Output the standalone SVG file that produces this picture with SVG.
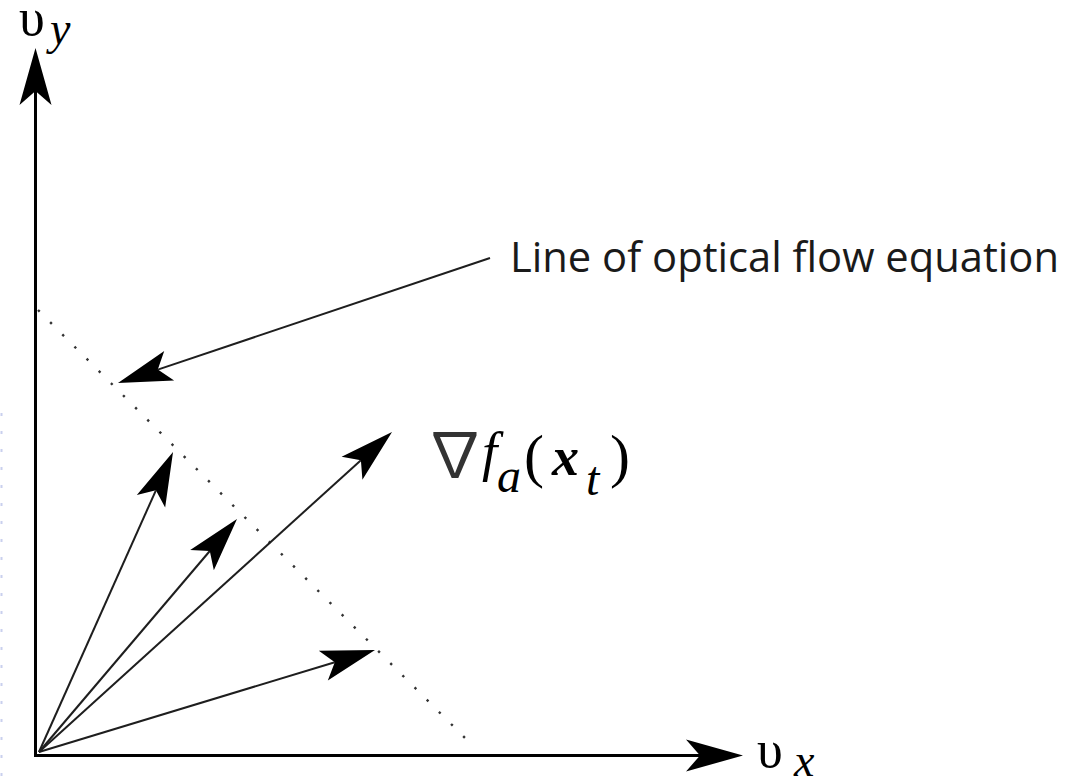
<svg xmlns="http://www.w3.org/2000/svg" width="1068" height="780" viewBox="0 0 1068 780">
  <style>
    .axis { stroke: #000; stroke-width: 3; fill: none; }
    .vec { stroke: #1e1e1e; stroke-width: 2; fill: none; }
    .dots { stroke: #333; stroke-width: 2.4; fill: none; stroke-dasharray: 2.4 14.8; }
    .label { font-family: "Open Sans", "Noto Sans", sans-serif; fill: #1a1a1a; }
  </style>
  <defs>
    <marker id="axisHead" markerUnits="userSpaceOnUse" viewBox="-16 -18 62 36" markerWidth="62" markerHeight="36" refX="0" refY="0" orient="auto">
      <path d="M43,0 L-14,-16 L0,0 L-14,16 Z" fill="#000"/>
    </marker>
    <marker id="vecHead" markerUnits="userSpaceOnUse" viewBox="-14 -17 58 34" markerWidth="58" markerHeight="34" refX="0" refY="0" orient="auto">
      <path d="M42,0 L-12,-15.5 L0,0 L-12,15.5 Z" fill="#000"/>
    </marker>
  </defs>
  <rect width="1068" height="780" fill="#fff"/>

  <g id="margin-trace">
    <line x1="1.5" y1="413" x2="1.5" y2="780" stroke="#c9d0ee" stroke-width="2" stroke-dasharray="3 15"/>
  </g>

  <g id="axes">
    <line class="axis" x1="35.5" y1="757" x2="35.5" y2="91" marker-end="url(#axisHead)"/>
    <line class="axis" x1="34" y1="755.5" x2="700" y2="755.5" marker-end="url(#axisHead)"/>
  </g>

  <g id="flow-line">
    <line class="dots" x1="38" y1="310" x2="474" y2="747"/>
  </g>

  <g id="connectors">
    <line class="vec" x1="39" y1="752" x2="155.9" y2="490.3" marker-end="url(#vecHead)"/>
    <line class="vec" x1="39" y1="752" x2="209.8" y2="551" marker-end="url(#vecHead)"/>
    <line class="vec" x1="39" y1="752" x2="360.9" y2="460.2" marker-end="url(#vecHead)"/>
    <line class="vec" x1="39" y1="752" x2="334.8" y2="662.2" marker-end="url(#vecHead)"/>
    <line class="vec" x1="490" y1="258" x2="157.8" y2="369.6" marker-end="url(#vecHead)"/>
  </g>

  <g id="label-vy" font-family="'Liberation Serif', 'Times New Roman', serif" fill="#000">
    <text x="19" y="35" font-size="52">υ</text>
    <text x="50" y="44" font-size="46" font-style="italic">y</text>
  </g>

  <g id="label-vx" font-family="'Liberation Serif', 'Times New Roman', serif" fill="#000">
    <text x="757" y="767" font-size="52">υ</text>
    <text x="794" y="776" font-size="46" font-style="italic">x</text>
  </g>

  <g id="label-gradient" font-family="'Liberation Serif', 'Times New Roman', serif" fill="#000">
    <text x="424" y="477" font-family="'Noto Sans CJK JP', 'DejaVu Sans', sans-serif" font-size="62" fill="#333">∇</text>
    <text x="482" y="470" font-size="55" font-style="italic">f</text>
    <text x="497" y="492" font-size="48" font-style="italic">a</text>
    <text x="524" y="476" font-size="60">(</text>
    <text x="552" y="475" font-size="54" font-style="italic" font-weight="bold">x</text>
    <text x="586" y="495" font-size="48" font-style="italic">t</text>
    <text x="610" y="476" font-size="60">)</text>
  </g>

  <g id="label-line">
    <text class="label" x="510" y="272" font-size="42" textLength="549" lengthAdjust="spacingAndGlyphs">Line of optical flow equation</text>
  </g>
</svg>
